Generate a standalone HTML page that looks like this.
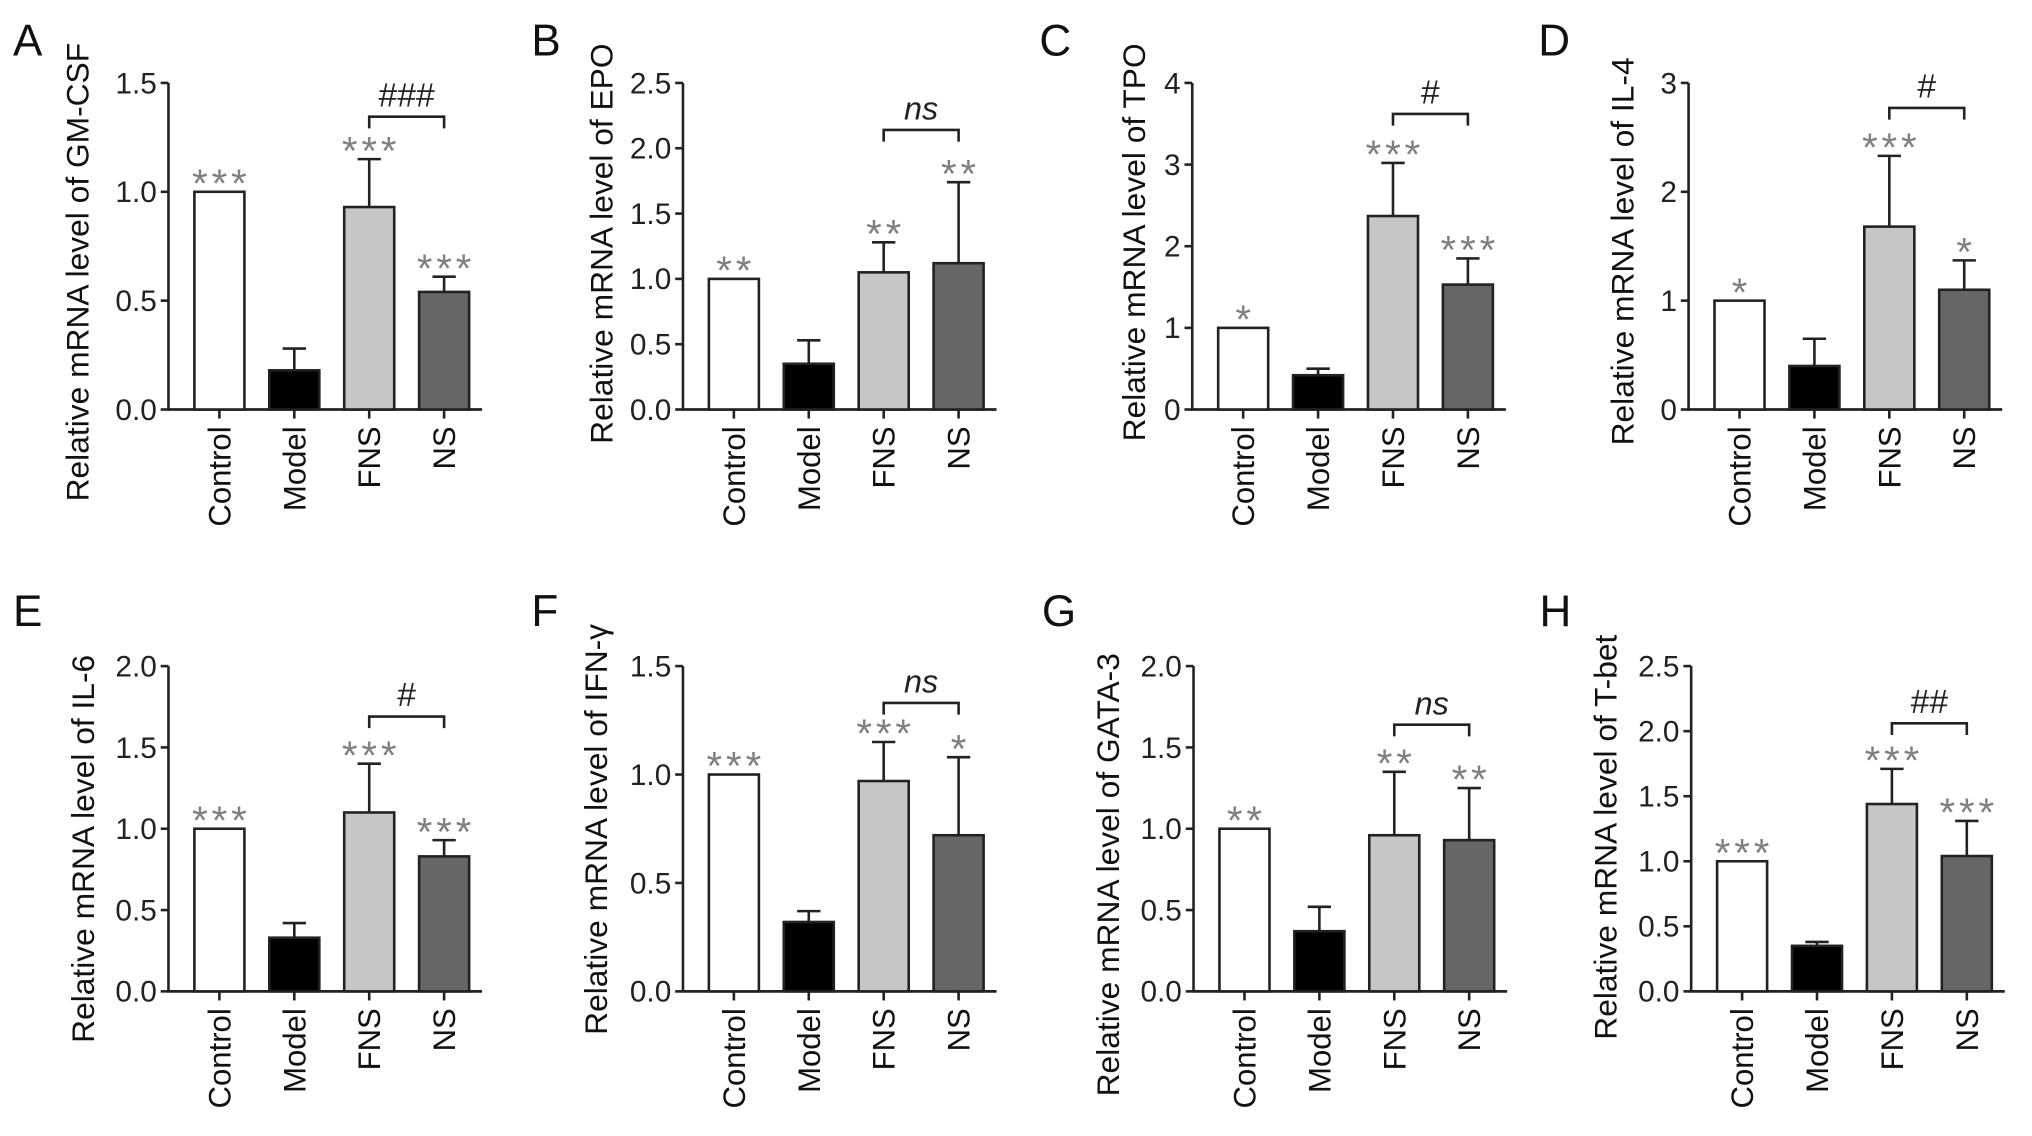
<!DOCTYPE html>
<html><head><meta charset="utf-8"><style>
html,body{margin:0;padding:0;background:#fff;}
svg{display:block;font-family:"Liberation Sans",Arial,sans-serif;}
</style></head><body>
<svg id="fig" width="2032" height="1136" viewBox="0 0 1568 876.6" preserveAspectRatio="none" xmlns="http://www.w3.org/2000/svg">
<rect width="1568" height="877" fill="#fff"/>
</svg>
<script>
// data arrays
const categories = ["Control","Model","FNS","NS"];
const panelLetters = ["A","B","C","D","E","F","G","H"];
const genes = ["GM-CSF","EPO","TPO","IL-4","IL-6","IFN-γ","GATA-3","T-bet"];
const yMaxes = [1.5,2.5,4,3,2.0,1.5,2.0,2.5];
const tickLabels = [
 ["0.0","0.5","1.0","1.5"],["0.0","0.5","1.0","1.5","2.0","2.5"],["0","1","2","3","4"],["0","1","2","3"],
 ["0.0","0.5","1.0","1.5","2.0"],["0.0","0.5","1.0","1.5"],["0.0","0.5","1.0","1.5","2.0"],["0.0","0.5","1.0","1.5","2.0","2.5"]];
const meanA=[1,0.18,0.93,0.54], errA=[0,0.10,0.22,0.07];
const meanB=[1,0.35,1.05,1.12], errB=[0,0.18,0.23,0.62];
const meanC=[1,0.42,2.37,1.53], errC=[0,0.08,0.65,0.32];
const meanD=[1,0.40,1.68,1.10], errD=[0,0.25,0.65,0.27];
const meanE=[1,0.33,1.10,0.83], errE=[0,0.09,0.30,0.10];
const meanF=[1,0.32,0.97,0.72], errF=[0,0.05,0.18,0.36];
const meanG=[1,0.37,0.96,0.93], errG=[0,0.15,0.39,0.32];
const meanH=[1,0.35,1.44,1.04], errH=[0,0.03,0.27,0.27];
const means=[meanA,meanB,meanC,meanD,meanE,meanF,meanG,meanH];
const errs=[errA,errB,errC,errD,errE,errF,errG,errH];
const stars=[["***","","***","***"],["**","","**","**"],["*","","***","***"],["*","","***","*"],
 ["***","","***","***"],["***","","***","*"],["**","","**","**"],["***","","***","***"]];
const bracketLabels=["###","ns","#","#","#","ns","ns","##"];
const bracketLevels=[1.345,2.14,3.62,2.77,1.69,1.33,1.64,2.06];

const NS="http://www.w3.org/2000/svg";
const svg=document.getElementById('fig');
const axX=[130,527,920,1303,130,527,921,1305];
const letterX=[10,410,802,1187,10,410,804,1188];
const titleX=[62,466,877,1254,66,462,857,1241];
const titleY=[210,188,187,194,655,640,675,646];
const fills=["#fff","#000","#c6c6c6","#666"];
function el(tag,attrs,parent){const e=document.createElementNS(NS,tag);for(const k in attrs)e.setAttribute(k,attrs[k]);(parent||svg).appendChild(e);return e;}
for(let p=0;p<8;p++){
  const row=p<4?0:1;
  const base=row?765:316, top=row?514:64;
  const ax=axX[p];
  const g=el('g',{});
  
  
  const y=v=>base-(v/yMaxes[p])*(base-top);
  const xc=i=>ax+20+19.3+i*57.8;
  const L=el('text',{x:letterX[p],y:row?483:43,'font-size':34,fill:'#111'},g);L.textContent=panelLetters[p];
  
  
  const t=el('text',{x:titleX[p],y:titleY[p],'font-size':24.5,'text-anchor':'middle',fill:'#111',transform:`rotate(-90 ${titleX[p]} ${titleY[p]})`,'dominant-baseline':'middle'},g);
  t.textContent='Relative mRNA level of '+genes[p];
  
  
  el('line',{x1:ax,y1:top,x2:ax,y2:base,stroke:'#222','stroke-width':2},g);
  el('line',{x1:ax-1,y1:base,x2:ax+242,y2:base,stroke:'#222','stroke-width':2.2},g);
  const tl=tickLabels[p];
  tl.forEach((lab,k)=>{
    const v=parseFloat(lab);const yy=y(v);
    el('line',{x1:ax-6,y1:yy,x2:ax,y2:yy,stroke:'#222','stroke-width':2},g);
    const tt=el('text',{x:ax-9,y:yy+8,'font-size':23,'text-anchor':'end',fill:'#222'},g);tt.textContent=lab;
    
    
  });
  categories.forEach((c,i)=>{
    const cx=xc(i), m=means[p][i], e=errs[p][i];
    if(e>0){
      el('line',{x1:cx,y1:y(m),x2:cx,y2:y(m+e),stroke:'#222','stroke-width':2},g);
      el('line',{x1:cx-9,y1:y(m+e),x2:cx+9,y2:y(m+e),stroke:'#222','stroke-width':2},g);
    }
    const r=el('rect',{x:cx-19.3,y:y(m),width:38.6,height:base-y(m),fill:fills[i],stroke:'#222','stroke-width':2},g);
    
    
    el('line',{x1:cx,y1:base,x2:cx,y2:base+7,stroke:'#222','stroke-width':2},g);
    const xl=base+13;
    const xt=el('text',{x:cx+8.5,y:xl,'font-size':24,'text-anchor':'end',fill:'#111',transform:`rotate(-90 ${cx+8.5} ${xl})`},g);
    xt.textContent=c;
    
    
    if(stars[p][i]){
      const st=el('text',{x:cx+1.5,y:y(m+e)+4,'font-size':31,'text-anchor':'middle',fill:'#808080','letter-spacing':3},g);
      st.textContent=stars[p][i];
      
      
    }
  });
  const by=y(bracketLevels[p]);
  el('path',{d:`M${xc(2)},${by+9}V${by}H${xc(3)}V${by+9}`,fill:'none',stroke:'#222','stroke-width':2},g);
  const isNs=bracketLabels[p]==='ns';
  const bt=el('text',{x:(xc(2)+xc(3))/2,y:by-8,'font-size':isNs?25:26,'font-style':isNs?'italic':'normal','text-anchor':'middle',fill:'#222'},g);
  bt.textContent=bracketLabels[p];
  
  
}
</script>
</body></html>
